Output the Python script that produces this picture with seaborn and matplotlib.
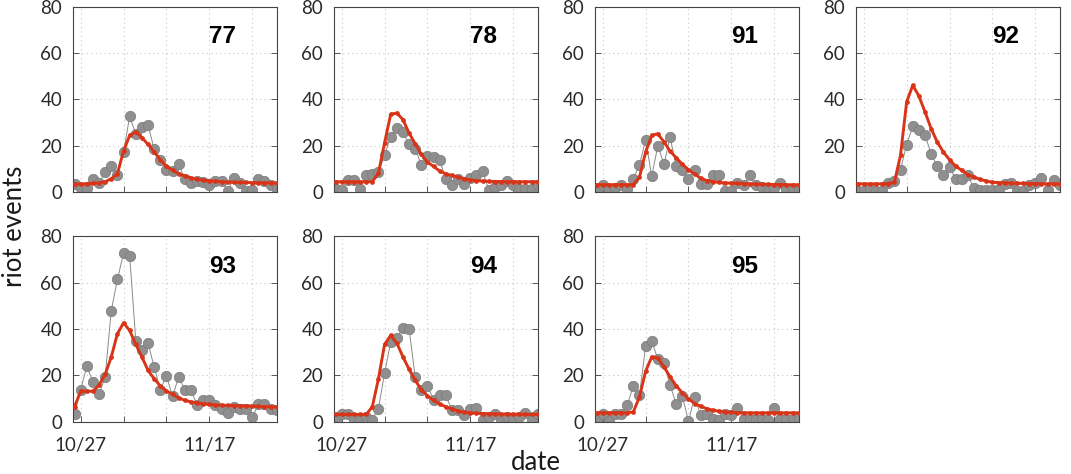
import seaborn as sns
import matplotlib.pyplot as plt
import pandas as pd
import numpy as np

# daily riot events, 10/26 .. 11/28 (2005), per departement
start_date = '2005-10-26'
n_days = 34
panels = ['77', '78', '91', '92', '93', '94', '95']

obs_77 = [3.6, 1.7, 1.7, 5.5, 3.9, 8.9, 11.2, 7.2, 17.3, 32.7, 25, 28.1, 28.8, 18.7, 14, 9.4, 9,
          12, 5.8, 3.9, 5, 4.3, 2.9, 5, 5, 0.3, 6.2, 3.9, 0.7, 1, 5.8, 5, 2.9, 1.4]
fit_77 = [3.5, 3.5, 3.7, 3.8, 4, 4.5, 5.8, 8, 17.7, 24.5, 26, 23.5, 20.6, 17.3, 14, 11.2, 9.4,
          8, 7, 6.2, 5.6, 5.2, 4.9, 4.7, 4.5, 4.4, 4.3, 4.2, 4.2, 4.1, 4.1, 4, 4, 4]

obs_78 = [1.4, 1, 5.3, 5.3, 1.4, 7.2, 7.9, 8.6, 16, 24, 27.8, 25.9, 20.6, 18.7, 11.8, 15.4, 15.1,
          13.7, 5.8, 3.3, 5.8, 3.6, 6.2, 7.6, 9.1, 1, 2.2, 2.9, 5, 2.9, 1.4, 1.4, 1.4, 2.9]
fit_78 = [4.5, 4.5, 4.5, 4.5, 4.5, 4.5, 4.6, 8.2, 21.3, 33.6, 34.1, 31.3, 25.5, 20.9, 16.3, 13,
          11.1, 9.1, 7.9, 7.2, 6.5, 5.8, 5.2, 5, 4.8, 4.7, 4.6, 4.6, 4.5, 4.5, 4.5, 4.5, 4.5, 4.5]

obs_91 = [1.4, 3.2, 0.3, 1.9, 3.2, 1.4, 5.8, 11.8, 22.6, 6.9, 20, 12, 23.8, 11.1, 9.7, 5.8, 9.7,
          3.6, 3.6, 7.2, 7.2, 0.7, 0.7, 3.9, 3.2, 7.2, 2.9, 2.2, 0.3, 1.9, 3.9, 1, 1, 0.3]
fit_91 = [3.2, 3.2, 3.2, 3.2, 3.2, 3.2, 3.3, 6.5, 17.3, 24.5, 25.2, 21.6, 17.7, 14.8, 12, 9.7,
          7.9, 6, 5, 4.6, 4.2, 4, 3.9, 3.8, 3.7, 3.6, 3.5, 3.4, 3.4, 3.3, 3.3, 3.2, 3.2, 3.2]

obs_92 = [0.3, 0.3, 1.4, 0.3, 0.3, 3.9, 4.8, 9.7, 20.5, 28.4, 27, 24.5, 16.6, 11.1, 7.2, 10.8, 5.8,
          5.8, 7.2, 1.7, 1, 1, 1, 1.4, 3.6, 3.9, 0.7, 0.7, 2.9, 3.9, 6, 1, 5.3, 3.2]
fit_92 = [3.6, 3.6, 3.6, 3.6, 3.6, 3.7, 4.3, 15.9, 38.9, 46.1, 41.5, 34.6, 27.4, 21.6, 17.3, 14,
          11.2, 9.4, 7.6, 6.5, 5.5, 4.8, 4.3, 4.1, 4, 3.9, 3.8, 3.8, 3.7, 3.7, 3.6, 3.6, 3.6, 3.6]

obs_93 = [3.6, 13.9, 23.9, 17.2, 11.9, 19.4, 48, 61.4, 72.8, 71.7, 35, 30.8, 34, 23.7, 13.9, 19.8,
          11, 19.4, 13.9, 13.9, 7.2, 9.3, 9.3, 7.2, 5.7, 3.9, 6.2, 5.7, 5.7, 1.9, 7.5, 7.9, 5.7, 5.3]
fit_93 = [6.5, 13.2, 13.2, 13.2, 15.8, 20.5, 28, 38, 42.7, 39.4, 33.4, 28, 22.2, 18.6, 15.5, 13.3,
          11.9, 10.3, 9.3, 8.6, 8.2, 7.9, 7.5, 7.3, 7.2, 7.1, 7, 7, 6.9, 6.8, 6.7, 6.6, 6.5, 6.5]

obs_94 = [1.4, 3.3, 3.3, 1, 1, 2.2, 1, 5.7, 21.1, 34.4, 36, 40.6, 40.1, 19.4, 13.6, 15.5, 9.6,
          11.5, 11.5, 5, 5, 2.9, 5.4, 6, 1, 2.2, 3.6, 0.3, 2.2, 1, 2.2, 4, 1, 3.3]
fit_94 = [3.2, 3.2, 3.2, 3.2, 3.2, 3.2, 6.5, 18.6, 33.4, 37.3, 34, 28, 22.7, 17.9, 13.9, 11.2,
          9.3, 7.7, 6.5, 5.6, 4.7, 4.2, 3.9, 3.7, 3.6, 3.5, 3.4, 3.4, 3.3, 3.3, 3.3, 3.2, 3.2, 3.2]

obs_95 = [1, 3.6, 0.3, 3.6, 3.6, 7.2, 15.5, 11.5, 32.7, 34.8, 27, 25.4, 15.8, 7.6, 11, 0.4, 10.8,
          2.9, 3.6, 1.1, 0.7, 3.6, 2.9, 6, 1.1, 1.1, 1.1, 1.1, 0.7, 6, 1.1, 1.1, 1.1, 1.7]
fit_95 = [3.9, 3.9, 3.9, 3.9, 3.9, 3.9, 4.3, 10.8, 21.8, 28, 27.5, 23.7, 19.4, 15.5, 12.5, 10,
          7.9, 6.7, 5.7, 5, 4.6, 4.3, 4.1, 4, 3.9, 3.9, 3.9, 3.9, 3.9, 3.9, 3.9, 3.9, 3.9, 3.9]

observed = [obs_77, obs_78, obs_91, obs_92, obs_93, obs_94, obs_95]
fitted = [fit_77, fit_78, fit_91, fit_92, fit_93, fit_94, fit_95]

week_ticks = ['2005-10-27', '2005-11-03', '2005-11-10', '2005-11-17', '2005-11-24']
week_labels = ['10/27', '', '', '11/17', '']

sns.set_style('white')
plt.rcParams['font.family'] = ['Lato', 'DejaVu Sans']

dates = pd.date_range(start_date, periods=n_days)
tick_dates = pd.to_datetime(week_ticks)

fig, axes = plt.subplots(2, 4, figsize=(10.71, 4.74), dpi=100)
fig.subplots_adjust(left=0.0684, right=0.990, top=0.986, bottom=0.110,
                    wspace=0.28, hspace=0.238)

for k, ax in enumerate(axes.flat):
    if k >= len(panels):
        ax.axis('off')
        continue
    df = pd.DataFrame({'date': dates, 'obs': observed[k], 'fit': fitted[k]})
    sns.lineplot(data=df, x='date', y='obs', ax=ax, color='#8a8a8a', lw=0.7,
                 marker='o', markersize=7.5, markerfacecolor='#8f8f8f',
                 markeredgecolor='#7a7a7a', markeredgewidth=0.5, zorder=2)
    sns.lineplot(data=df, x='date', y='fit', ax=ax, color='#d93418', lw=2.1,
                 marker='o', markersize=3.4, markeredgewidth=0, zorder=3)
    ax.set_ylim(0, 80)
    ax.set_yticks([0, 20, 40, 60, 80])
    ax.set_xlim(dates[0] - pd.Timedelta(hours=5), dates[-1] + pd.Timedelta(hours=2))
    ax.set_xticks(tick_dates)
    if k >= 4:
        ax.set_xticklabels(week_labels)
    else:
        ax.set_xticklabels([''] * len(week_labels))
    ax.set_xlabel('')
    ax.set_ylabel('')
    ax.grid(True, linestyle=(0, (1, 3)), color='#c8c8c8', lw=0.8)
    ax.tick_params(direction='in', length=4, width=0.7, color='#555555',
                   labelsize=13.5, labelcolor='#2a2a2a', top=False, right=True,
                   left=True, bottom=True)
    ax.tick_params(axis='y', pad=8)
    ax.tick_params(axis='x', pad=11)
    for s in ax.spines.values():
        s.set_color('#444444')
        s.set_linewidth(0.8)
    ax.text(0.73, 0.84, panels[k], transform=ax.transAxes, ha='center', va='center',
            fontsize=17.5, fontweight='bold', color='black',
            family=['Liberation Sans', 'DejaVu Sans'])

fig.text(0.5, 0.025, 'date', ha='center', va='center', fontsize=18.5, color='#1a1a1a')
fig.text(0.014, 0.523, 'riot events', ha='center', va='center', rotation=90,
         fontsize=18.5, color='#1a1a1a')

plt.savefig('out.png', dpi=100)
